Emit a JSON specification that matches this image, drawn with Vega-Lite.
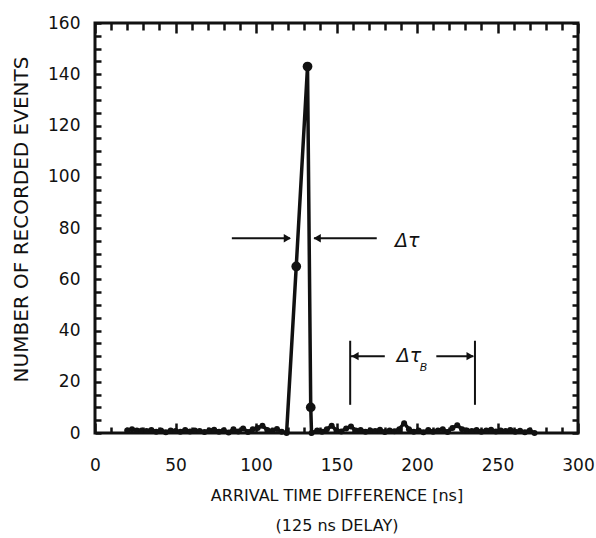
{
  "$schema": "https://vega.github.io/schema/vega-lite/v6.json",
  "width": 483,
  "height": 410,
  "autosize": "none",
  "padding": {"left": 95, "top": 23, "right": 18, "bottom": 105},
  "background": "white",
  "config": {
    "view": {"stroke": "#111", "strokeWidth": 3},
    "font": "DejaVu Sans",
    "axis": {"grid": false, "domain": false, "tickColor": "#111", "tickWidth": 2.5, "labelColor": "#111", "titleColor": "#111", "labelFontSize": 17, "titleFontWeight": "normal"}
  },
  "datasets": {
    "series": [
      {"t": 20, "n": 1}, {"t": 23, "n": 1.5}, {"t": 26, "n": 1}, {"t": 29, "n": 1}, {"t": 32, "n": 0.8}, {"t": 35, "n": 1.2},
      {"t": 38, "n": 0.5}, {"t": 41, "n": 1}, {"t": 44, "n": 0.3}, {"t": 47, "n": 1}, {"t": 50, "n": 0.8}, {"t": 53, "n": 0.5},
      {"t": 56, "n": 1.2}, {"t": 59, "n": 0.6}, {"t": 62, "n": 1}, {"t": 65, "n": 0.8}, {"t": 68, "n": 0.4}, {"t": 71, "n": 1},
      {"t": 74, "n": 1.3}, {"t": 77, "n": 0.5}, {"t": 80, "n": 1.1}, {"t": 83, "n": 0.2}, {"t": 86, "n": 1.5}, {"t": 89, "n": 0.6},
      {"t": 92, "n": 1.8}, {"t": 95, "n": 0.4}, {"t": 98, "n": 1.5}, {"t": 101, "n": 2}, {"t": 104, "n": 2.8}, {"t": 107, "n": 1.2},
      {"t": 110, "n": 0.8}, {"t": 113, "n": 1.6}, {"t": 116, "n": 0.5}, {"t": 119, "n": 0},
      {"t": 125, "n": 65}, {"t": 132, "n": 143}, {"t": 134, "n": 10}, {"t": 134.5, "n": 0},
      {"t": 138, "n": 1}, {"t": 141, "n": 0.5}, {"t": 144, "n": 1.5}, {"t": 147, "n": 2.8}, {"t": 150, "n": 1}, {"t": 153, "n": 0.6},
      {"t": 156, "n": 1.8}, {"t": 159, "n": 2.5}, {"t": 162, "n": 1}, {"t": 165, "n": 1.2}, {"t": 168, "n": 0.5}, {"t": 171, "n": 1},
      {"t": 174, "n": 0.8}, {"t": 177, "n": 1.3}, {"t": 180, "n": 0.4}, {"t": 183, "n": 1}, {"t": 186, "n": 0.7}, {"t": 189, "n": 1.5},
      {"t": 192, "n": 3.8}, {"t": 195, "n": 1.5}, {"t": 198, "n": 0.5}, {"t": 201, "n": 1}, {"t": 204, "n": 0.3}, {"t": 207, "n": 1.2},
      {"t": 210, "n": 0.5}, {"t": 213, "n": 1}, {"t": 216, "n": 1.5}, {"t": 219, "n": 0.4}, {"t": 222, "n": 2}, {"t": 225, "n": 3},
      {"t": 228, "n": 1.5}, {"t": 231, "n": 1}, {"t": 234, "n": 0.8}, {"t": 237, "n": 1.2}, {"t": 240, "n": 0.5}, {"t": 243, "n": 1},
      {"t": 246, "n": 1.3}, {"t": 249, "n": 0.6}, {"t": 252, "n": 1}, {"t": 255, "n": 0.8}, {"t": 258, "n": 1.2}, {"t": 261, "n": 0.5},
      {"t": 264, "n": 0.9}, {"t": 267, "n": 0.3}, {"t": 270, "n": 1}, {"t": 273, "n": 0}
    ],
    "segs": [
      {"t": 85, "t2": 121, "n": 76, "n2": 76},
      {"t": 136, "t2": 175, "n": 76, "n2": 76},
      {"t": 158.5, "t2": 158.5, "n": 11, "n2": 36},
      {"t": 236, "t2": 236, "n": 11, "n2": 36},
      {"t": 159, "t2": 180, "n": 30, "n2": 30},
      {"t": 212, "t2": 235, "n": 30, "n2": 30}
    ],
    "heads": [
      {"t": 119.5, "n": 76, "dir": "right"},
      {"t": 138, "n": 76, "dir": "left"},
      {"t": 161.5, "n": 30, "dir": "left"},
      {"t": 233, "n": 30, "dir": "right"}
    ],
    "labels": [
      {"t": 194, "n": 75, "txt": "Δτ", "sz": "big"},
      {"t": 195, "n": 30, "txt": "Δτ", "sz": "big"},
      {"t": 204, "n": 25.5, "txt": "B", "sz": "small"}
    ]
  },
  "resolve": {"axis": {"x": "independent", "y": "independent"}},
  "layer": [
    {
      "data": {"name": "series"},
      "mark": {"type": "line", "color": "#111", "strokeWidth": 3.5},
      "encoding": {
        "x": {"field": "t", "type": "quantitative", "scale": {"domain": [0, 300], "nice": false},
          "axis": {"orient": "bottom", "values": [0,10,20,30,40,50,60,70,80,90,100,110,120,130,140,150,160,170,180,190,200,210,220,230,240,250,260,270,280,290,300],
            "labelExpr": "datum.value % 50 === 0 ? datum.label : ''",
            "tickSize": {"condition": {"test": "datum.value % 50 === 0", "value": -10}, "value": -6},
            "labelPadding": 34, "labelFlush": false, "labelOverlap": false,
            "title": ["ARRIVAL TIME DIFFERENCE [ns]", "(125 ns DELAY)"], "titleFontSize": 16, "titleLineHeight": 30, "titlePadding": 10}},
        "y": {"field": "n", "type": "quantitative", "scale": {"domain": [0, 160], "nice": false},
          "axis": {"orient": "left", "values": [0,5,10,15,20,25,30,35,40,45,50,55,60,65,70,75,80,85,90,95,100,105,110,115,120,125,130,135,140,145,150,155,160],
            "labelExpr": "datum.value % 20 === 0 ? datum.label : ''",
            "tickSize": -6, "labelPadding": 21, "labelOverlap": false, "labelFlush": false,
            "title": "NUMBER OF RECORDED EVENTS", "titleFontSize": 20, "titlePadding": 16, "titleY": 196}}
      }
    },
    {
      "data": {"name": "series"},
      "mark": {"type": "point", "filled": true, "color": "#111", "opacity": 1, "size": 36},
      "encoding": {
        "x": {"field": "t", "type": "quantitative", "axis": null},
        "y": {"field": "n", "type": "quantitative", "axis": null}
      }
    },
    {
      "data": {"name": "series"},
      "transform": [{"filter": "datum.t >= 124 && datum.t <= 134"}],
      "mark": {"type": "point", "filled": true, "color": "#111", "opacity": 1, "size": 95},
      "encoding": {
        "x": {"field": "t", "type": "quantitative", "axis": null},
        "y": {"field": "n", "type": "quantitative", "axis": null}
      }
    },
    {
      "data": {"name": "segs"},
      "mark": {"type": "rule", "color": "#111", "strokeWidth": 2},
      "encoding": {
        "x": {"field": "t", "type": "quantitative",
          "axis": {"orient": "top", "labels": false, "title": null, "values": [0,10,20,30,40,50,60,70,80,90,100,110,120,130,140,150,160,170,180,190,200,210,220,230,240,250,260,270,280,290,300],
            "tickSize": {"condition": {"test": "datum.value % 50 === 0", "value": -10}, "value": -7}}},
        "x2": {"field": "t2"},
        "y": {"field": "n", "type": "quantitative",
          "axis": {"orient": "right", "labels": false, "title": null, "values": [0,5,10,15,20,25,30,35,40,45,50,55,60,65,70,75,80,85,90,95,100,105,110,115,120,125,130,135,140,145,150,155,160],
            "tickSize": -6}},
        "y2": {"field": "n2"}
      }
    },
    {
      "data": {"name": "heads"},
      "mark": {"type": "point", "filled": true, "color": "#111", "opacity": 1, "size": 70},
      "encoding": {
        "x": {"field": "t", "type": "quantitative", "axis": null},
        "y": {"field": "n", "type": "quantitative", "axis": null},
        "shape": {"field": "dir", "type": "nominal", "scale": {"domain": ["left", "right"], "range": ["triangle-left", "triangle-right"]}, "legend": null}
      }
    },
    {
      "data": {"name": "labels"},
      "mark": {"type": "text", "color": "#111", "fontStyle": "italic", "align": "center", "baseline": "middle"},
      "encoding": {
        "x": {"field": "t", "type": "quantitative", "axis": null},
        "y": {"field": "n", "type": "quantitative", "axis": null},
        "text": {"field": "txt"},
        "size": {"field": "sz", "type": "nominal", "scale": {"domain": ["big", "small"], "range": [19, 11]}, "legend": null}
      }
    }
  ]
}
